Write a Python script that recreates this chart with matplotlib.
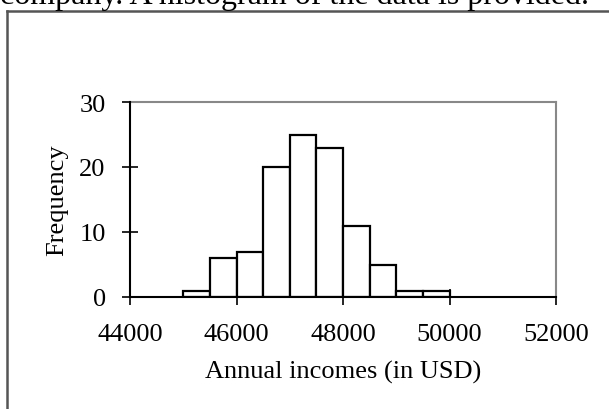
import matplotlib.pyplot as plt
from matplotlib.lines import Line2D

# Histogram bins (left edges, USD) and their counts
bin_edges = [45000, 45500, 46000, 46500, 47000, 47500, 48000, 48500, 49000, 49500]
bin_width = 500
frequency = [1, 6, 7, 20, 25, 23, 11, 5, 1, 1]

x_ticks = [44000, 46000, 48000, 50000, 52000]
y_ticks = [0, 10, 20, 30]

plt.rcParams['font.family'] = ['Liberation Serif', 'DejaVu Serif']

fig = plt.figure(figsize=(6.09, 4.10), dpi=100)

# text cut off at the top of the screenshot
fig.text(0.0, 1.0 - 4 / 410, "company. A histogram of the data is provided.",
         fontsize=23, ha='left', va='baseline')

# outer frame around the chart
fig.add_artist(Line2D([7 / 609, 7 / 609], [0, 1 - 12 / 410], color='#555555', lw=1.8,
                      transform=fig.transFigure))
fig.add_artist(Line2D([7 / 609, 1], [1 - 12 / 410, 1 - 12 / 410], color='#555555', lw=1.8,
                      transform=fig.transFigure))

ax = fig.add_axes([130 / 609, 1 - 298 / 410, 426 / 609, 195 / 410])
ax.bar(bin_edges, frequency, width=bin_width, align='edge',
       facecolor='white', edgecolor='black', linewidth=1.6, zorder=3)

ax.set_xlim(44000, 52000)
ax.set_ylim(0, 30)
ax.set_xticks(x_ticks)
ax.set_yticks(y_ticks)

for side in ['left', 'bottom']:
    ax.spines[side].set_color('black')
    ax.spines[side].set_linewidth(1.5)
    ax.spines[side].set_zorder(4)
for side in ['top', 'right']:
    ax.spines[side].set_color('#888888')
    ax.spines[side].set_linewidth(1.5)

ax.tick_params(direction='inout', length=11, width=1.2, labelsize=19, color='black')
ax.tick_params(axis='x', pad=13)
ax.tick_params(axis='y', pad=12)

ax.set_xlabel("Annual incomes (in USD)", fontsize=19, labelpad=11)
ax.set_ylabel("Frequency", fontsize=19, labelpad=8)

fig.savefig("out.png", dpi=100)
